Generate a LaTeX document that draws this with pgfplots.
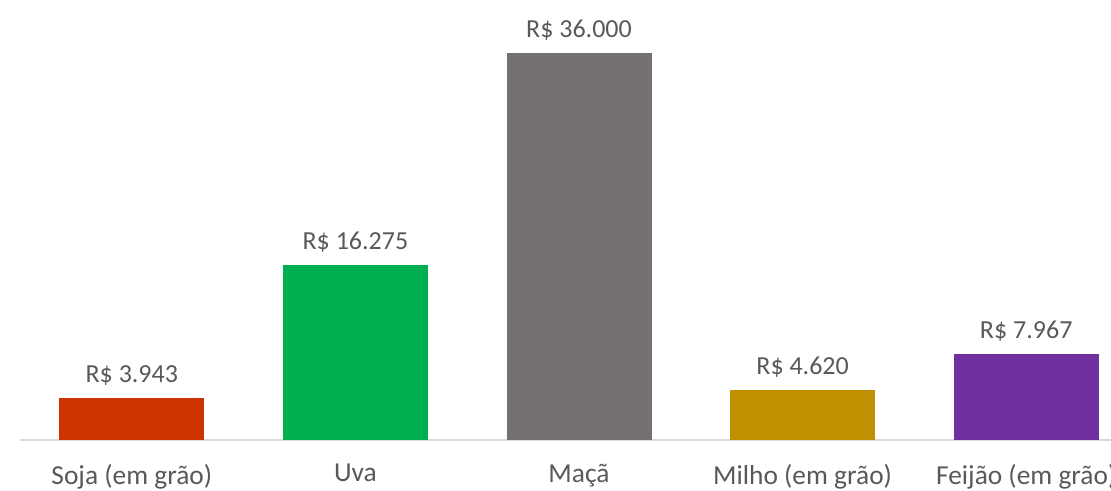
\documentclass[border=0pt]{standalone}
\usepackage{pgfplots}
\pgfplotsset{compat=1.18}
\usepackage{fontspec}
\setmainfont{Carlito}
\definecolor{txt}{HTML}{595959}
\definecolor{cSoja}{HTML}{CC3300}
\definecolor{cUva}{HTML}{00B050}
\definecolor{cMaca}{HTML}{767171}
\definecolor{cMilho}{HTML}{BF9000}
\definecolor{cFeijao}{HTML}{7030A0}
\definecolor{axl}{HTML}{D9D9D9}
\begin{document}
\begin{tikzpicture}
\begin{axis}[
  name=a,
  scale only axis,
  width=559pt, height=215pt,
  xmin=-0.5, xmax=4.5,
  ymin=0, ymax=40000,
  ybar, bar width=72.5pt, bar shift=0pt,
  axis y line=none,
  axis x line*=bottom,
  x axis line style={draw=axl, line width=1pt, -},
  xtick={0,1,2,3,4},
  xticklabels={Soja (em grão),Uva,Maçã,Milho (em grão),Feijão (em grão)},
  major tick length=0pt,
  xticklabel style={font=\fontsize{13.7pt}{16pt}\selectfont, text=txt, yshift=-8.5pt},
  point meta=explicit symbolic,
  nodes near coords,
  every node near coord/.append style={font=\fontsize{13pt}{15pt}\selectfont, text=txt, yshift=2.7pt},
  clip=false,
]
\addplot[fill=cSoja, draw=none] coordinates {(0,3943) [R\$ 3.943]};
\addplot[fill=cUva, draw=none] coordinates {(1,16275) [R\$ 16.275]};
\addplot[fill=cMaca, draw=none] coordinates {(2,36000) [R\$ 36.000]};
\addplot[fill=cMilho, draw=none] coordinates {(3,4620) [R\$ 4.620]};
\addplot[fill=cFeijao, draw=none] coordinates {(4,7967) [R\$ 7.967]};
\end{axis}
\pgfresetboundingbox
\path[use as bounding box] ([shift={(-10pt,-25.5pt)}]a.south west) rectangle ([shift={(545.5pt,220pt)}]a.south west);
\end{tikzpicture}
\end{document}
